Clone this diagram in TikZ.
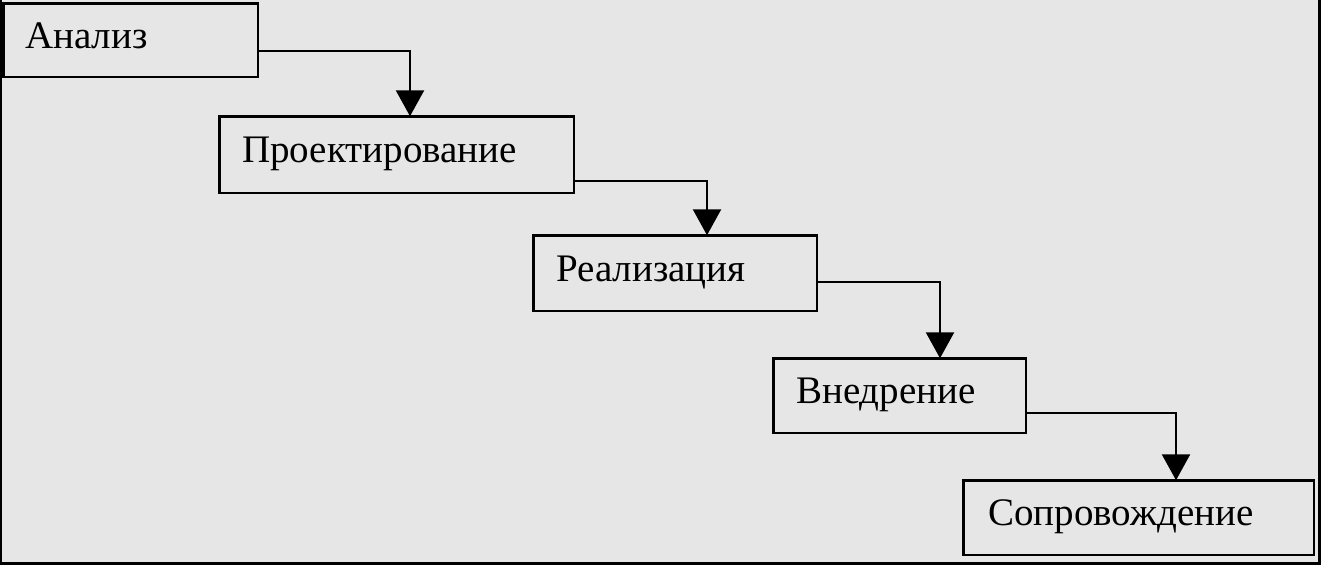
\documentclass[tikz,border=0pt]{standalone}
\usepackage{fontspec}
\setmainfont{Liberation Serif}
\usetikzlibrary{arrows.meta}
\definecolor{bg}{RGB}{230,230,230}
\tikzset{
  stagebox/.style={draw=black, line width=2.5pt, fill=bg, inner xsep=0pt, inner ysep=0pt, outer sep=0pt,
    align=left, text height=28pt, text depth=12pt,
    font=\fontsize{39}{45}\selectfont},
  flow/.style={draw=black, line width=2.5pt, -{Triangle[length=26pt,width=28pt]}},
}
\begin{document}
\begin{tikzpicture}[x=1pt,y=-1pt]
\useasboundingbox (0,0) rectangle (1321,565);
\fill[bg] (0,0) rectangle (1321,565);
\draw[line width=2pt] (1,0) -- (1,565);
\draw[line width=3pt] (0,563.5) -- (1321,563.5);
\draw[line width=3pt] (1319.5,0) -- (1319.5,565);

\node[stagebox, minimum width=254.5pt, minimum height=73.5pt, text width=210.5pt] (a) at (130.5,40) {Анализ};
\node[stagebox, minimum width=354.5pt, minimum height=76.5pt, text width=308.5pt] (b) at (396.5,154.5) {Проектирование};
\node[stagebox, minimum width=283.5pt, minimum height=75.5pt, text width=237.5pt] (c) at (675,273) {Реализация};
\node[stagebox, minimum width=252.5pt, minimum height=74.5pt, text width=206.5pt] (d) at (899.5,395.5) {Внедрение};
\node[stagebox, minimum width=350.5pt, minimum height=74.5pt, text width=300.5pt] (e) at (1138.5,517.5) {Сопровождение};

\draw[flow] ([yshift=-11pt]a.east) -| ([xshift=190.75pt]b.north west);
\draw[flow] ([yshift=-26.5pt]b.east) -| ([xshift=173.75pt]c.north west);
\draw[flow] ([yshift=-9pt]c.east) -| ([xshift=166.75pt]d.north west);
\draw[flow] ([yshift=-17.5pt]d.east) -| ([xshift=212.75pt]e.north west);
\end{tikzpicture}
\end{document}
